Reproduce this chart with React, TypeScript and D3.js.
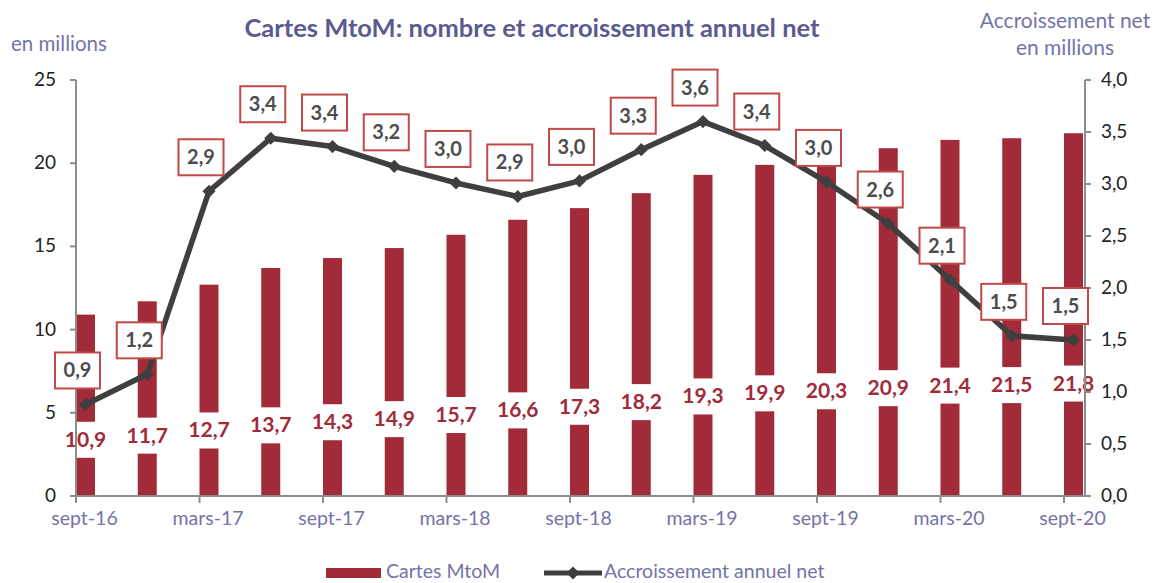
import React from "react";
import * as d3 from "d3";

const categories = [
  "sept-16", "déc-16", "mars-17", "juin-17", "sept-17", "déc-17", "mars-18", "juin-18",
  "sept-18", "déc-18", "mars-19", "juin-19", "sept-19", "déc-19", "mars-20", "juin-20", "sept-20",
];
const cartes = [10.9, 11.7, 12.7, 13.7, 14.3, 14.9, 15.7, 16.6, 17.3, 18.2, 19.3, 19.9, 20.3, 20.9, 21.4, 21.5, 21.8];
const accroissement = [0.88, 1.17, 2.93, 3.44, 3.36, 3.17, 3.01, 2.88, 3.03, 3.33, 3.6, 3.37, 3.02, 2.62, 2.08, 1.54, 1.5];
const leftTicks = [0, 5, 10, 15, 20, 25];
const rightTicks = [0, 0.5, 1, 1.5, 2, 2.5, 3, 3.5, 4];
const xLabelEvery = 2;

const W = 1154, H = 583;
const plotLeft = 76, plotRight = 1085, plotBottom = 496, plotTop = 80;
const step = 61.75;
const barW = 19;

const FONT = "Lato, 'Open Sans', sans-serif";
const BAR = "#a22b3a";
const LINE = "#3f3f3f";
const AXIS = "#8c8c8c";
const LAV = "#7373ab";
const TITLE = "#5b5b92";
const BOXRED = "#bf4a47";

const fmt = (v: number) => v.toFixed(1).replace(".", ",");

export default function App() {
  const x = d3.scaleLinear().domain([0, categories.length - 1]).range([plotLeft, plotLeft + (categories.length - 1) * step]);
  const yL = d3.scaleLinear().domain([0, 25]).range([plotBottom, plotTop]);
  const yR = d3.scaleLinear().domain([0, 4]).range([plotBottom, plotTop]);
  const cx = (i: number) => x(i) + barW / 2;

  const lineGen = d3.line<number>().x((_, i) => cx(i)).y((d) => yR(d));
  const diamond = d3.symbol().type(d3.symbolDiamond2).size(110)();

  return (
    <svg width={W} height={H} style={{ position: "absolute", left: 0, top: 0, display: "block", background: "#fff" }} fontFamily={FONT}>
      {/* Title */}
      <text x={532} y={37} textAnchor="middle" fontSize={25.5} fontWeight="bold" fill={TITLE}>
        Cartes MtoM: nombre et accroissement annuel net
      </text>
      <text x={11} y={51} fontSize={20.5} fill={LAV}>en millions</text>
      <text x={1065} y={28} textAnchor="middle" fontSize={21} fill={LAV}>Accroissement net</text>
      <text x={1065} y={55} textAnchor="middle" fontSize={21} fill={LAV}>en millions</text>

      {/* Bars */}
      {cartes.map((v, i) => (
        <rect key={"b" + i} x={x(i)} y={yL(v)} width={barW} height={plotBottom - yL(v)} fill={BAR} />
      ))}

      {/* Bar labels */}
      {cartes.map((v, i) => {
        const ly = yL(v * 0.31);
        return (
          <g key={"bl" + i}>
            <rect x={cx(i) - 27} y={ly - 18} width={54} height={36} fill="#fff" />
            <text x={cx(i)} y={ly + 7} textAnchor="middle" fontSize={21} fontWeight="bold" fill={BAR}>
              {fmt(v)}
            </text>
          </g>
        );
      })}

      {/* Axes */}
      <line x1={plotLeft} x2={plotLeft} y1={plotTop} y2={plotBottom} stroke={AXIS} strokeWidth={2} />
      <line x1={plotRight} x2={plotRight} y1={plotTop} y2={plotBottom} stroke={AXIS} strokeWidth={2} />
      <line x1={plotLeft} x2={plotRight} y1={plotBottom} y2={plotBottom} stroke={AXIS} strokeWidth={2} />
      {leftTicks.map((t) => (
        <g key={"lt" + t}>
          <line x1={plotLeft - 6} x2={plotLeft} y1={yL(t)} y2={yL(t)} stroke={AXIS} strokeWidth={2} />
          <text x={56} y={yL(t) + 6} textAnchor="end" fontSize={19} fill="#222">{t}</text>
        </g>
      ))}
      {rightTicks.map((t) => (
        <g key={"rt" + t}>
          <line x1={plotRight} x2={plotRight + 6} y1={yR(t)} y2={yR(t)} stroke={AXIS} strokeWidth={2} />
          <text x={1101} y={yR(t) + 6} textAnchor="start" fontSize={19} fill="#222">{fmt(t)}</text>
        </g>
      ))}
      {categories.map((c, i) =>
        i % xLabelEvery === 0 ? (
          <g key={"xt" + i}>
            <line x1={x(i)} x2={x(i)} y1={plotBottom} y2={plotBottom + 7} stroke={AXIS} strokeWidth={2} />
            <text x={cx(i) - 1} y={525} textAnchor="middle" fontSize={19.5} fill={LAV}>{c}</text>
          </g>
        ) : null
      )}

      {/* Line */}
      <path d={lineGen(accroissement) || ""} fill="none" stroke={LINE} strokeWidth={5.5} strokeLinejoin="round" />
      {accroissement.map((v, i) => (
        <path key={"m" + i} d={diamond || ""} transform={`translate(${cx(i)},${yR(v)})`} fill={LINE} />
      ))}

      {/* Line labels */}
      {accroissement.map((v, i) => {
        const lx = cx(i) - 8;
        const ly = yR(v) - 34;
        return (
          <g key={"ll" + i}>
            <rect x={lx - 22.5} y={ly - 18} width={45} height={36} fill="#fff" stroke={BOXRED} strokeWidth={2} />
            <text x={lx} y={ly + 7} textAnchor="middle" fontSize={20} fontWeight="bold" fill="#4d4d4d">
              {fmt(v)}
            </text>
          </g>
        );
      })}

      {/* Legend */}
      <rect x={326} y={568} width={55} height={10} fill={BAR} />
      <text x={386} y={578} fontSize={19.5} fill={LAV}>Cartes MtoM</text>
      <line x1={544} x2={602} y1={573} y2={573} stroke={LINE} strokeWidth={5} />
      <path d={diamond || ""} transform="translate(573,573)" fill={LINE} />
      <text x={604} y={578} fontSize={19.5} fill={LAV}>Accroissement annuel net</text>
    </svg>
  );
}
